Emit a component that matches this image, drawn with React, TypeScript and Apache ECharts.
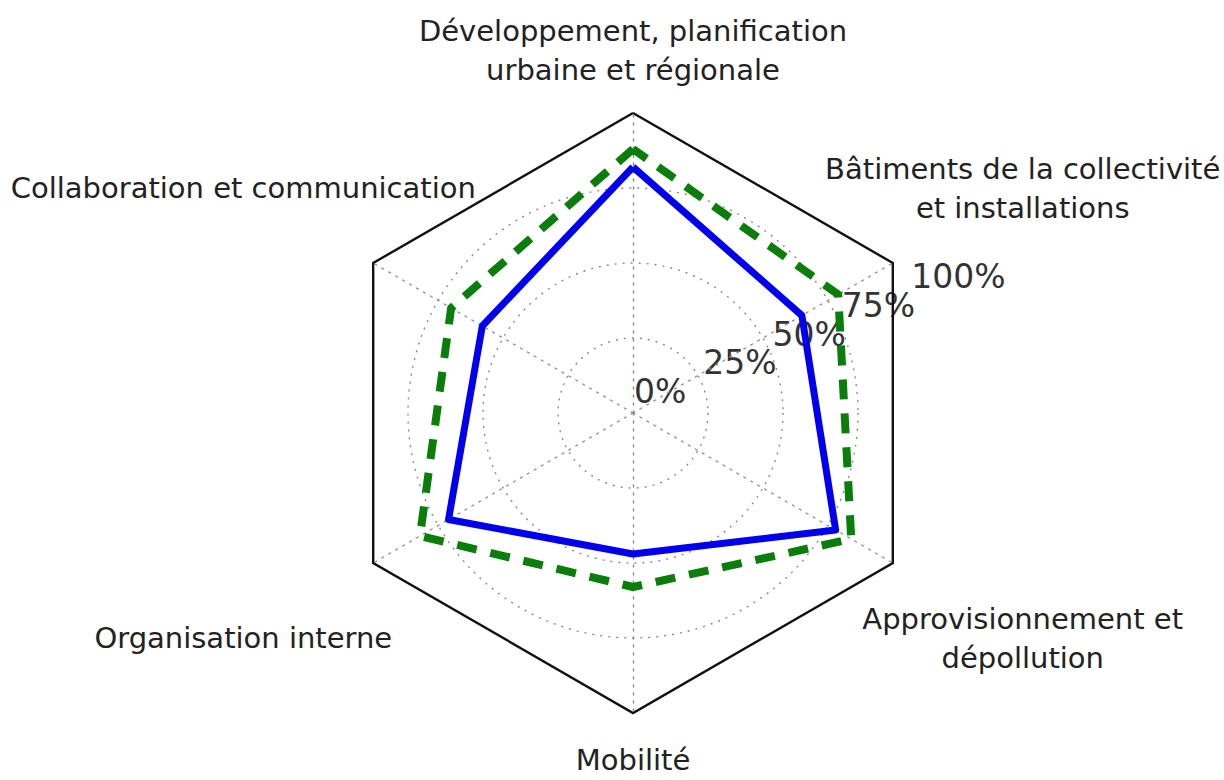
import React, { useEffect, useRef } from "react";
import * as echarts from "echarts";

// Indicators in ECharts order (counter-clockwise starting at the top)
const categories = [
  "Développement, planification\nurbaine et régionale",
  "Collaboration et communication",
  "Organisation interne",
  "Mobilité",
  "Approvisionnement et\ndépollution",
  "Bâtiments de la collectivité\net installations",
];
const greenValues = [88, 70, 82, 58, 84, 79];
const blueValues = [82, 58, 71, 47, 78, 65];
const tickValues = [0, 25, 50, 75, 100];
const tickLabels = ["0%", "25%", "50%", "75%", "100%"];

const CX = 633;
const CY = 413;
const R = 300;
const FONT = "DejaVu Sans";

export default function App() {
  const ref = useRef<HTMLDivElement>(null);

  useEffect(() => {
    if (!ref.current) return;
    const chart = echarts.init(ref.current, undefined, { renderer: "svg" });

    const n = categories.length;
    const indicator = categories.map((name) => ({ name, min: 0, max: 100 }));

    // category labels (outside the hexagon)
    const nameTexts = categories.map((name, i) => {
      const ang = Math.PI / 2 + (i * 2 * Math.PI) / n;
      const c = Math.cos(ang);
      const s = Math.sin(ang);
      const rl = Math.abs(c) > 0.5 ? 450 : s > 0 ? 363 : 347;
      const multi = name.indexOf("\n") >= 0;
      return {
        type: "text",
        x: CX + rl * c,
        y: CY - rl * s,
        silent: true,
        style: {
          text: name,
          fill: "#222",
          fontSize: 29,
          fontFamily: FONT,
          lineHeight: multi ? 39 : 30,
          align: "center",
          verticalAlign: "middle",
        },
      };
    });

    // radial tick labels at 22.5°
    const la = (22.5 * Math.PI) / 180;
    const tickTexts = tickValues.map((v, i) => {
      const rr = (R * v) / 100;
      return {
        type: "text",
        x: CX + rr * Math.cos(la) + 1,
        y: CY - rr * Math.sin(la) - 5,
        silent: true,
        style: {
          text: tickLabels[i],
          fill: "#333",
          fontSize: 33,
          fontFamily: FONT,
          align: "left",
          verticalAlign: "bottom",
        },
      };
    });

    chart.setOption({
      animation: false,
      backgroundColor: "#ffffff",
      radar: [
        {
          center: [CX, CY],
          radius: R,
          startAngle: 90,
          shape: "circle",
          splitNumber: 4,
          indicator,
          axisName: { show: false },
          axisLine: {
            show: true,
            lineStyle: { color: "#8a8a8a", type: [2, 6], width: 1.4 },
          },
          axisTick: { show: false },
          axisLabel: { show: false },
          splitLine: {
            show: true,
            lineStyle: {
              color: ["#8a8a8a", "#8a8a8a", "#8a8a8a", "#8a8a8a", "rgba(0,0,0,0)"],
              type: [2, 6],
              width: 1.4,
            },
          },
          splitArea: { show: false },
        },
        {
          center: [CX, CY],
          radius: R,
          startAngle: 90,
          shape: "polygon",
          splitNumber: 1,
          indicator,
          axisName: { show: false },
          axisLine: { show: false },
          axisTick: { show: false },
          axisLabel: { show: false },
          splitLine: {
            show: true,
            lineStyle: { color: "#111", width: 2.4 },
          },
          splitArea: { show: false },
        },
      ],
      graphic: [...nameTexts, ...tickTexts],
      series: [
        {
          type: "radar",
          radarIndex: 0,
          symbol: "none",
          silent: true,
          z: 3,
          data: [
            {
              value: greenValues,
              name: "green",
              lineStyle: { color: "#0a7d0a", width: 8, type: [20, 14] },
            },
          ],
        },
        {
          type: "radar",
          radarIndex: 0,
          symbol: "none",
          silent: true,
          z: 4,
          data: [
            {
              value: blueValues,
              name: "blue",
              lineStyle: { color: "#0000ee", width: 7, type: "solid" },
            },
          ],
        },
      ],
    });

    return () => {
      chart.dispose();
    };
  }, []);

  return (
    <div
      ref={ref}
      style={{ position: "fixed", left: 0, top: 0, width: 1224, height: 780 }}
    />
  );
}
